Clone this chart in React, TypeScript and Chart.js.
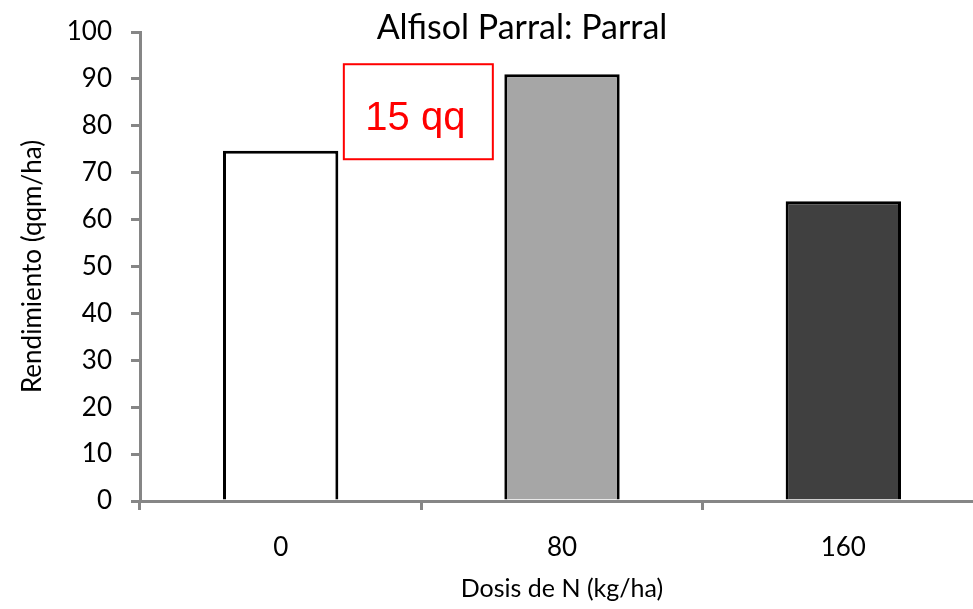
import React, { useEffect, useRef } from "react";
import { Chart, registerables } from "chart.js";

Chart.register(...registerables);

// Nitrogen doses (kg/ha) and yields (qqm/ha)
const doses = ["0", "80", "160"];
const yields = [74.7, 91.0, 63.9];
const barColors = ["#FFFFFF", "#A6A6A6", "#404040"];

const chartTitle = "Alfisol Parral: Parral";
const xTitle = "Dosis de N (kg/ha)";
const yTitle = "Rendimiento (qqm/ha)";

// Callout between the first two doses
const noteText = "15 qq";
const noteValue = 83;

const FONT = "Lato, 'Open Sans', sans-serif";
const AXIS_GREY = "#868686";

const overlay = {
  id: "overlay",
  afterDraw(chart: any) {
    const { ctx } = chart;
    const x = chart.scales.x;
    const y = chart.scales.y;
    ctx.save();

    // chart title
    ctx.font = `34px ${FONT}`;
    ctx.fillStyle = "#000";
    ctx.textAlign = "center";
    ctx.textBaseline = "alphabetic";
    ctx.fillText(chartTitle, 522, 39);

    // callout box
    const cx = (x.getPixelForValue(0) + x.getPixelForValue(1)) / 2 - 3;
    const cy = y.getPixelForValue(noteValue);
    const w = 149;
    const h = 95;
    ctx.fillStyle = "#FFFFFF";
    ctx.fillRect(cx - w / 2, cy - h / 2, w, h);
    ctx.strokeStyle = "#FF0000";
    ctx.lineWidth = 2;
    ctx.strokeRect(cx - w / 2, cy - h / 2, w, h);
    ctx.fillStyle = "#FF0000";
    ctx.font = `40px 'Liberation Sans', Arial, sans-serif`;
    ctx.textAlign = "center";
    ctx.textBaseline = "alphabetic";
    ctx.fillText(noteText, cx - 3, cy + 18);

    ctx.restore();
  },
};

export default function App() {
  const canvasRef = useRef<HTMLCanvasElement | null>(null);

  useEffect(() => {
    document.body.style.margin = "0";
    document.body.style.overflow = "hidden";
    const canvas = canvasRef.current;
    if (!canvas) return;

    const chart = new Chart(canvas, {
      type: "bar",
      data: {
        labels: doses,
        datasets: [
          {
            data: yields,
            backgroundColor: barColors,
            borderColor: "#000000",
            borderWidth: 3,
            barPercentage: 0.41,
            categoryPercentage: 1,
          },
        ],
      },
      options: {
        responsive: false,
        animation: false,
        layout: { padding: { top: 32, right: 2, left: 0, bottom: 0 } },
        plugins: {
          legend: { display: false },
          tooltip: { enabled: false },
          title: { display: false },
        },
        scales: {
          x: {
            grid: {
              offset: true,
              drawOnChartArea: false,
              color: AXIS_GREY,
              lineWidth: 3,
              tickLength: 9,
            },
            border: { color: AXIS_GREY, width: 3 },
            ticks: {
              color: "#000",
              font: { family: FONT, size: 26 },
              padding: 22,
            },
            title: {
              display: true,
              text: xTitle,
              color: "#000",
              font: { family: FONT, size: 25 },
              padding: { top: 0, bottom: 5 },
            },
            afterFit: (s: any) => {
              s.height = 108;
              s.paddingLeft = 0;
              s.paddingRight = 0;
            },
          },
          y: {
            min: 0,
            max: 100,
            grid: {
              drawOnChartArea: false,
              color: AXIS_GREY,
              lineWidth: 3,
              tickLength: 9,
            },
            border: { color: AXIS_GREY, width: 3 },
            ticks: {
              stepSize: 10,
              color: "#000",
              font: { family: FONT, size: 26 },
              padding: 19,
            },
            title: {
              display: true,
              text: yTitle,
              color: "#000",
              font: { family: FONT, size: 26 },
              padding: { top: 17, bottom: 0 },
            },
            afterFit: (s: any) => {
              s.width = 140;
              s.paddingTop = 0;
              s.paddingBottom = 0;
            },
          },
        },
      },
      plugins: [overlay],
    });

    return () => chart.destroy();
  }, []);

  return (
    <div style={{ width: 973, height: 609, overflow: "hidden" }}>
      <canvas ref={canvasRef} width={986} height={609} style={{ display: "block" }} />
    </div>
  );
}
